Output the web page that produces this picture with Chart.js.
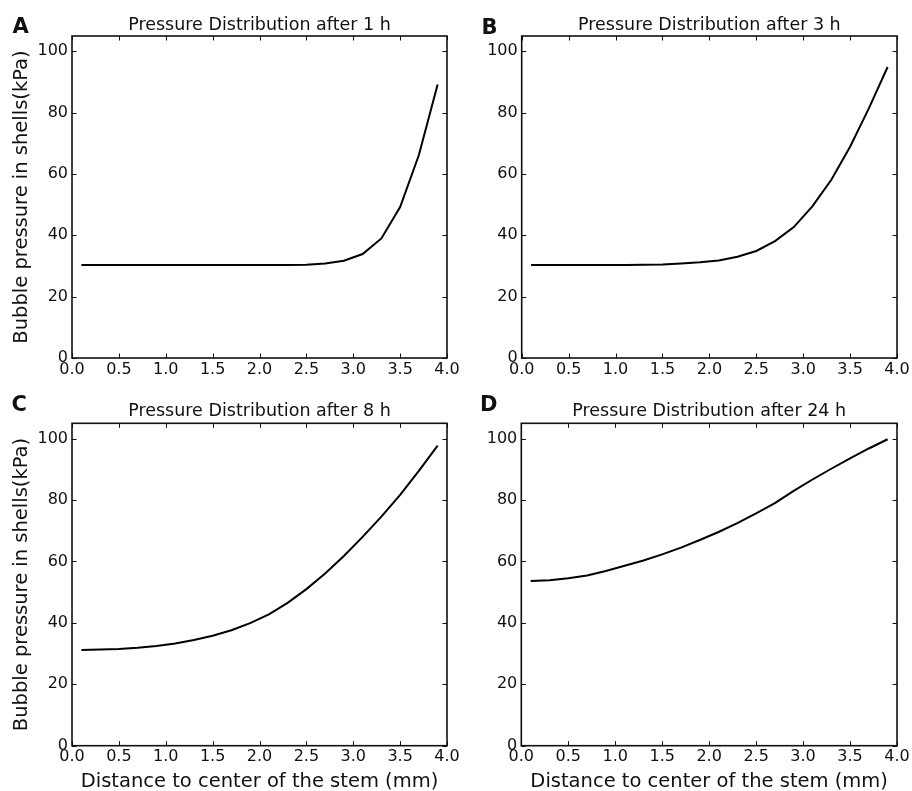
<!DOCTYPE html>
<html>
<head>
<meta charset="utf-8">
<script src="https://cdn.jsdelivr.net/npm/chart.js@4.4.1/dist/chart.umd.min.js"></script>
<style>
  html, body { margin: 0; padding: 0; background: #fff; }
  body { width: 912px; height: 791px; position: relative; overflow: hidden; }
  canvas { position: absolute; }
</style>
</head>
<body>
<canvas id="pA" width="470" height="380" style="left:0px;top:0px;width:470px;height:380px"></canvas>
<canvas id="pB" width="456" height="380" style="left:456px;top:0px;width:456px;height:380px"></canvas>
<canvas id="pC" width="470" height="411" style="left:0px;top:380px;width:470px;height:411px"></canvas>
<canvas id="pD" width="456" height="411" style="left:456px;top:380px;width:456px;height:411px"></canvas>
<script>
// Distance to the stem centre (mm) at which the shell pressure was computed
const distances = [0.1, 0.3, 0.5, 0.7, 0.9, 1.1, 1.3, 1.5, 1.7, 1.9,
                   2.1, 2.3, 2.5, 2.7, 2.9, 3.1, 3.3, 3.5, 3.7, 3.9];

// Bubble pressure in shells (kPa) after each elapsed time
const pressure1h  = [30.3, 30.3, 30.3, 30.3, 30.3, 30.3, 30.3, 30.3, 30.3, 30.3,
                     30.3, 30.3, 30.4, 30.8, 31.7, 33.9, 39.0, 49.2, 66.2, 89.2];
const pressure3h  = [30.3, 30.3, 30.3, 30.3, 30.3, 30.3, 30.4, 30.5, 30.8, 31.2,
                     31.8, 33.0, 34.9, 38.1, 42.7, 49.5, 58.1, 68.9, 81.4, 94.9];
const pressure8h  = [31.2, 31.3, 31.5, 31.9, 32.5, 33.3, 34.4, 35.8, 37.6, 39.9,
                     42.8, 46.5, 51.0, 56.1, 61.8, 68.0, 74.6, 81.7, 89.5, 97.7];
const pressure24h = [53.6, 53.9, 54.5, 55.4, 56.9, 58.6, 60.3, 62.3, 64.5, 67.0,
                     69.6, 72.5, 75.7, 79.0, 83.0, 86.7, 90.2, 93.6, 96.8, 99.8];

const xTickStep = 0.5;
const yTickStep = 20;
const xRange = [0, 4];
const yRange = [0, 105];

const FONT = "'DejaVu Sans', 'Liberation Sans', sans-serif";
const INK = '#111';

// Frame, inward tick marks on all four sides, and the panel letter
const framePlugin = {
  id: 'frame',
  afterDraw(chart, args, opts) {
    const ctx = chart.ctx;
    const a = chart.chartArea;
    const xs = chart.scales.x, ys = chart.scales.y;
    ctx.save();
    ctx.strokeStyle = INK;
    ctx.lineWidth = 1;
    const len = 4.5;
    xs.ticks.forEach(t => {
      const px = Math.round(xs.getPixelForValue(t.value)) + 0.5;
      ctx.beginPath();
      ctx.moveTo(px, a.bottom); ctx.lineTo(px, a.bottom - len);
      ctx.moveTo(px, a.top); ctx.lineTo(px, a.top + len);
      ctx.stroke();
    });
    ys.ticks.forEach(t => {
      const py = Math.round(ys.getPixelForValue(t.value)) + 0.5;
      ctx.beginPath();
      ctx.moveTo(a.left, py); ctx.lineTo(a.left + len, py);
      ctx.moveTo(a.right, py); ctx.lineTo(a.right - len, py);
      ctx.stroke();
    });
    ctx.lineWidth = 1.6;
    ctx.strokeRect(a.left, a.top, a.right - a.left, a.bottom - a.top);
    ctx.fillStyle = INK;
    ctx.font = 'bold 21px ' + FONT;
    ctx.textBaseline = 'alphabetic';
    ctx.textAlign = 'left';
    ctx.fillText(opts.letter, opts.x, opts.y);
    ctx.restore();
  }
};

function makePanel(canvasId, cfg) {
  const points = distances.map((d, i) => ({ x: d, y: cfg.values[i] }));
  return new Chart(document.getElementById(canvasId), {
    type: 'line',
    data: {
      datasets: [{
        data: points,
        borderColor: '#000',
        borderWidth: 2,
        pointRadius: 0,
        tension: 0,
        fill: false
      }]
    },
    options: {
      responsive: false,
      animation: false,
      events: [],
      layout: { padding: { left: 0, right: cfg.padRight, top: 0, bottom: 0 } },
      plugins: {
        legend: { display: false },
        tooltip: { enabled: false },
        title: {
          display: true,
          text: cfg.title,
          fullSize: false,
          color: INK,
          font: { family: FONT, size: 17.5, weight: 'normal', lineHeight: 1.2 },
          padding: { top: cfg.titlePad[0], bottom: cfg.titlePad[1] }
        },
        frame: { letter: cfg.letter, x: cfg.letterPos[0], y: cfg.letterPos[1] }
      },
      scales: {
        x: {
          type: 'linear',
          min: xRange[0], max: xRange[1],
          grid: { display: false, drawTicks: false },
          border: { display: false },
          ticks: {
            stepSize: xTickStep,
            padding: 2,
            color: INK,
            maxRotation: 0,
            autoSkip: false,
            font: { family: FONT, size: 16, lineHeight: 1.2 },
            callback: v => Number(v).toFixed(1)
          },
          title: {
            display: cfg.xTitle,
            text: 'Distance to center of the stem (mm)',
            color: INK,
            font: { family: FONT, size: 19.5, lineHeight: 0.9 },
            padding: { top: 0, bottom: 0 }
          },
          afterFit(scale) {
            scale.height = cfg.xHeight;
            scale.paddingLeft = 0;
            scale.paddingRight = 0;
          }
        },
        y: {
          type: 'linear',
          min: yRange[0], max: yRange[1],
          grid: { display: false, drawTicks: false },
          border: { display: false },
          ticks: {
            stepSize: yTickStep,
            includeBounds: false,
            padding: 4,
            color: INK,
            font: { family: FONT, size: 16, lineHeight: 1.2 }
          },
          title: {
            display: cfg.yTitle,
            text: 'Bubble pressure in shells(kPa)',
            color: INK,
            font: { family: FONT, size: 19.5, lineHeight: 1 },
            padding: { top: 12.25, bottom: 0 }
          },
          afterFit(scale) {
            scale.width = cfg.yWidth;
            scale.paddingTop = 0;
            scale.paddingBottom = 0;
          }
        }
      }
    },
    plugins: [framePlugin]
  });
}

makePanel('pA', {
  title: 'Pressure Distribution after 1 h', values: pressure1h, letter: 'A',
  letterPos: [12.5, 33], yTitle: true, xTitle: false,
  yWidth: 72, xHeight: 22, padRight: 23, titlePad: [14.5, 0.5]
});
makePanel('pB', {
  title: 'Pressure Distribution after 3 h', values: pressure3h, letter: 'B',
  letterPos: [25.5, 33.5], yTitle: false, xTitle: false,
  yWidth: 65.7, xHeight: 22, padRight: 15, titlePad: [14.5, 0.5]
});
makePanel('pC', {
  title: 'Pressure Distribution after 8 h', values: pressure8h, letter: 'C',
  letterPos: [11.5, 31], yTitle: true, xTitle: true,
  yWidth: 72, xHeight: 45.3, padRight: 23, titlePad: [21.2, 1.1]
});
makePanel('pD', {
  title: 'Pressure Distribution after 24 h', values: pressure24h, letter: 'D',
  letterPos: [24, 31], yTitle: false, xTitle: true,
  yWidth: 65.3, xHeight: 45.3, padRight: 15, titlePad: [21.2, 1.1]
});
</script>
</body>
</html>
